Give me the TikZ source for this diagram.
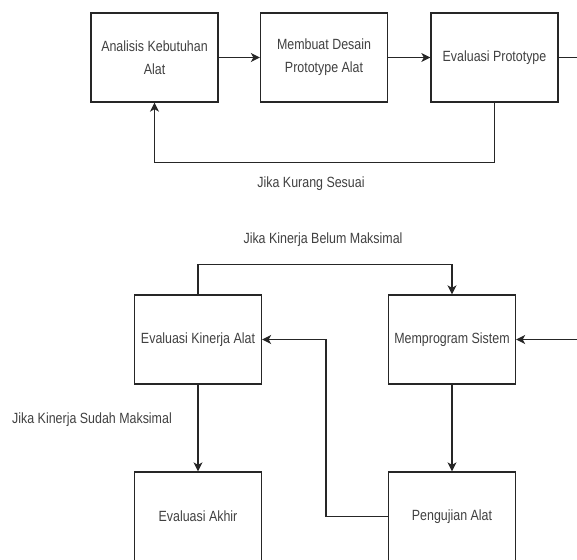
\documentclass[tikz,border=0pt]{standalone}
\usepackage{fontspec}
\setmainfont[FakeStretch=0.84]{Liberation Sans}
\usetikzlibrary{arrows.meta}
\begin{document}
\begin{tikzpicture}[x=1pt,y=-1pt,
  box/.style={draw=black!85,line width=1.3pt,minimum width=127pt,minimum height=89pt,inner sep=0pt,align=center,
    font=\fontsize{14.8}{23}\selectfont,text=black!75},
  lbl/.style={font=\fontsize{14.8}{17}\selectfont,text=black!75,inner sep=0pt},
  link/.style={draw=black!85,line width=1.3pt},
  arr/.style={link,-{Stealth[length=9pt,width=9pt,inset=2.5pt]}}]
\useasboundingbox (0,0) rectangle (577,559);
\node[box] (A1) at (154.5,57.5) {Analisis Kebutuhan\\Alat};
\node[box] (A2) at (324,57.5) {Membuat Desain\\Prototype Alat};
\node[box] (A3) at (494.5,57.5) {Evaluasi Prototype};
\node[box] (B1) at (198,339.5) {Evaluasi Kinerja Alat};
\node[box] (B2) at (452,339.5) {Memprogram Sistem};
\node[box] (C1) at (198,516.5) {Evaluasi Akhir};
\node[box] (C2) at (452,516.5) {Pengujian Alat};
\node[lbl] (L1) at (311,184) {Jika Kurang Sesuai};
\node[lbl] (L2) at (323,240) {Jika Kinerja Belum Maksimal};
\node[lbl] (L3) at (92,420) {Jika Kinerja Sudah Maksimal};
\coordinate (E1) at (578,57.5);
\coordinate (E2) at (578,339.5);
\draw[arr] (A1.east) -- (A2.west);
\draw[arr] (A2.east) -- (A3.west);
\draw[link] (A3.east) -- (E1);
\draw[arr] (A3.south) -- ++(0,60) -| (A1.south);
\draw[arr] (B1.north) -- ++(0,-30) -| (B2.north);
\draw[arr] (E2) -- (B2.east);
\draw[arr] (B2.south) -- (C2.north);
\draw[arr] (B1.south) -- (C1.north);
\draw[arr] (C2.west) -- ++(-62,0) |- (B1.east);
\end{tikzpicture}
\end{document}
